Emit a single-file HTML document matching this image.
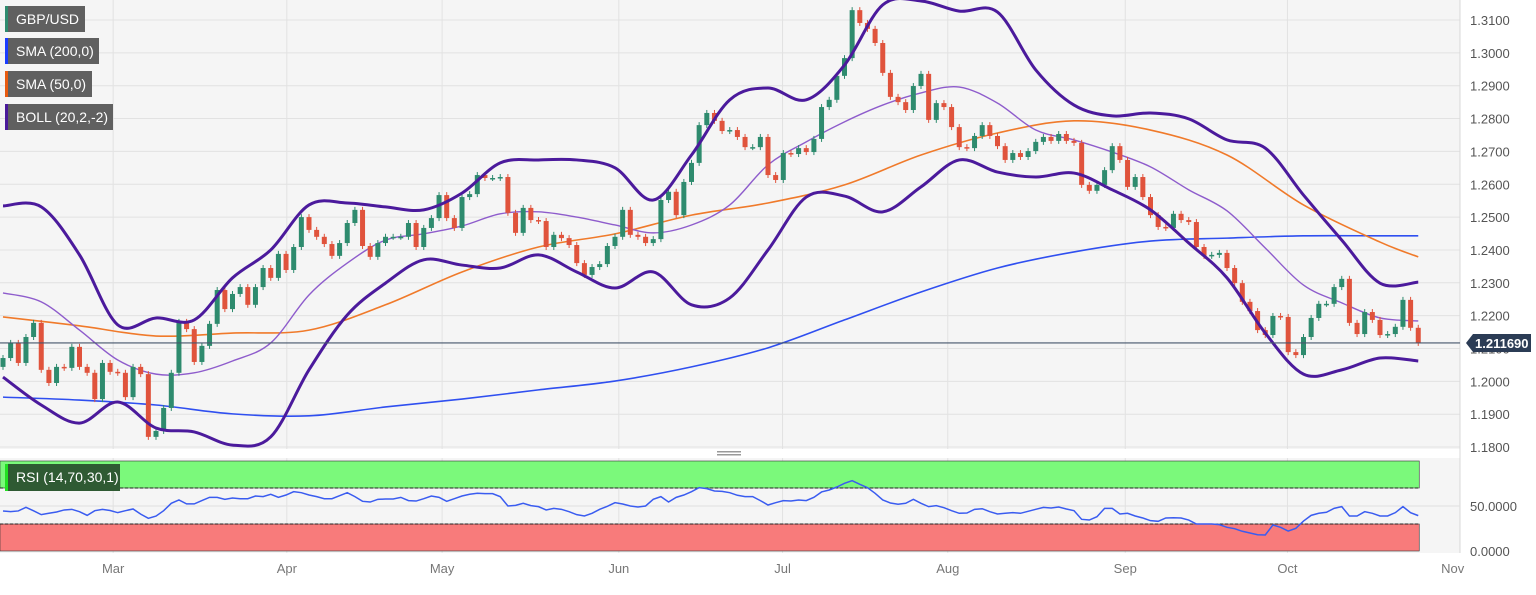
<!DOCTYPE html>
<html><head><meta charset="utf-8"><style>
html,body{margin:0;padding:0;background:#fff;}
body{width:1536px;height:595px;overflow:hidden;position:relative;font-family:"Liberation Sans",sans-serif;}
svg{position:absolute;left:0;top:0;}
.lg{position:absolute;left:5px;height:26px;background:#606060;color:#fff;font-size:14px;line-height:26px;padding:0 0 0 11px;box-sizing:border-box;white-space:nowrap;overflow:hidden;}
.lg i{position:absolute;left:0;top:0;bottom:0;width:3px;}
</style></head><body>
<svg id="c" width="1536" height="595"></svg>
<div class="lg" style="top:6px;width:80px"><i style="background:#2e8b6e"></i>GBP/USD</div>
<div class="lg" style="top:38px;width:94px"><i style="background:#1a3cff"></i>SMA (200,0)</div>
<div class="lg" style="top:71px;width:87px"><i style="background:#e85a0f"></i>SMA (50,0)</div>
<div class="lg" style="top:104px;width:108px"><i style="background:#4a1a9a"></i>BOLL (20,2,-2)</div>
<div class="lg" style="top:464px;left:5px;width:115px;height:27px;background:#2f5a33;line-height:27px"><i style="background:#22e022"></i>RSI (14,70,30,1)</div>
<script>
const closes=[1.2071,1.2117,1.2056,1.2135,1.2178,1.2035,1.1995,1.2044,1.2041,1.2105,1.2044,1.2026,1.1946,1.2056,1.2029,1.2026,1.1952,1.2044,1.2022,1.1831,
1.1849,1.1919,1.2026,1.2181,1.2159,1.2059,1.2108,1.2175,1.2278,1.2220,1.2266,1.2287,1.2233,1.2287,1.2345,1.2315,1.2388,1.2339,1.2409,1.2500,
1.2461,1.2440,1.2418,1.2382,1.2421,1.2482,1.2522,1.2412,1.2379,1.2421,1.2440,1.2440,1.2440,1.2482,1.2409,1.2467,1.2497,1.2567,1.2497,1.2467,
1.2561,1.2570,1.2628,1.2619,1.2619,1.2622,1.2513,1.2452,1.2528,1.2491,1.2488,1.2409,1.2446,1.2436,1.2415,1.2360,1.2324,1.2348,1.2357,1.2412,
1.2440,1.2522,1.2446,1.2440,1.2421,1.2433,1.2552,1.2577,1.2506,1.2607,1.2665,1.2780,1.2817,1.2793,1.2762,1.2765,1.2744,1.2713,1.2713,1.2744,
1.2628,1.2613,1.2695,1.2692,1.2710,1.2698,1.2738,1.2835,1.2857,1.2930,1.2984,1.3130,1.3091,1.3073,1.3030,1.2939,1.2866,1.2850,1.2826,1.2899,
1.2936,1.2796,1.2847,1.2835,1.2774,1.2713,1.2710,1.2747,1.2780,1.2747,1.2716,1.2674,1.2695,1.2683,1.2701,1.2729,1.2744,1.2732,1.2753,1.2732,
1.2726,1.2598,1.2580,1.2598,1.2643,1.2716,1.2674,1.2592,1.2622,1.2561,1.2506,1.2470,1.2467,1.2510,1.2491,1.2485,1.2409,1.2382,1.2385,1.2391,
1.2345,1.2299,1.2242,1.2214,1.2156,1.2141,1.2199,1.2196,1.2089,1.2080,1.2135,1.2193,1.2236,1.2236,1.2287,1.2312,1.2178,1.2144,1.2211,1.2187,
1.2141,1.2144,1.2166,1.2248,1.2163,1.2117];
const bandUpper=[1.2534,1.2531,1.2385,1.2172,1.2193,1.2187,1.2315,1.2400,1.2537,1.2543,1.2531,1.2522,1.2573,1.2665,1.2674,1.2674,1.2650,1.2552,1.2689,
1.2857,1.2893,1.2857,1.2963,1.3146,1.3158,1.3127,1.3124,1.2948,1.2841,1.2808,1.2817,1.2799,1.2735,1.2710,1.2567,1.2430,1.2299,1.2302];
const bandLower=[1.2013,1.1928,1.1873,1.1937,1.1858,1.1846,1.1806,1.1831,1.2035,1.2202,1.2299,1.2370,1.2354,1.2345,1.2385,1.2333,1.2284,1.2333,1.2233,
1.2254,1.2400,1.2561,1.2564,1.2516,1.2592,1.2674,1.2637,1.2622,1.2634,1.2583,1.2522,1.2421,1.2315,1.2147,1.2022,1.2035,1.2071,1.2062];
const bandMid=[1.2269,1.2242,1.2156,1.2065,1.2022,1.2026,1.2062,1.2117,1.2263,1.2360,1.2430,1.2449,1.2473,1.2510,1.2516,1.2500,1.2476,1.2452,1.2476,
1.2537,1.2659,1.2729,1.2790,1.2841,1.2878,1.2896,1.2847,1.2765,1.2735,1.2698,1.2653,1.2583,1.2519,1.2406,1.2293,1.2239,1.2193,1.2184];
const sma50=[1.2196,1.2169,1.2138,1.2147,1.2156,1.2233,1.2333,1.2409,1.2449,1.2506,1.2543,1.2598,1.2689,1.2756,1.2793,1.2765,1.2689,1.2537,1.2424,1.2379];
const sma200=[1.1952,1.1943,1.1928,1.1901,1.1895,1.1922,1.1946,1.1974,1.2001,1.2044,1.2102,1.2187,1.2272,1.2345,1.2394,1.2427,1.2436,1.2443,1.2443,1.2443];
const rsi=[44.5,43.7,44.5,48.5,44.7,40.4,41.9,43.3,45.6,46.3,43.7,39.6,44.8,46.3,45,42.6,44.8,46.7,41,36.3,
38.8,44.8,53,56.7,52.3,52.3,56,59.6,59.6,57.4,58.9,58.1,58.1,61.1,60.4,63,59.6,62.2,65.9,64.8,
62.2,60.4,58.1,58.1,61.5,64.8,60.4,55.2,54.4,57.4,57.8,57.8,59.6,56,55.5,58.1,61.1,59.6,55.2,58.1,
61.1,63,64.1,63.7,63.7,60.4,50,50.7,53,50.4,49.3,45.6,47.4,46.3,43.7,40.4,38.9,41.9,46.3,49.7,
53.7,52.2,50,48.9,50,57.4,60.4,54.4,59.6,62.2,65.9,70.4,69.3,66.7,66.3,64.8,61.9,60.4,60.4,56,
51.1,53.7,56,55.5,56.7,56,59.6,65.6,67.8,71.1,75.2,78.1,74.1,70.4,64.1,56.7,53.3,51.9,53,57.4,
53,49.3,50.4,48.1,44.8,41.9,42.2,46.3,47,43.7,41.1,41.9,42.6,41.9,44.1,46.3,48.5,47.8,48.9,46.7,
44.8,35.2,34.4,38.1,47.4,47.4,41.1,41.9,38.9,36.7,33.7,33,36.7,37,36.7,34.4,30,30,30,29.3,
26.3,24.8,21.9,20,18.1,17.8,28.9,26.3,22.2,25.2,33.3,39.6,41.9,43,47.4,49.3,38.9,38.9,43.7,41.9,
38.9,38.9,42.6,49.3,42.6,39.3];
const priceTicks=["1.3100","1.3000","1.2900","1.2800","1.2700","1.2600","1.2500","1.2400","1.2300","1.2200","1.2100","1.2000","1.1900","1.1800"];
const months=["Mar","Apr","May","Jun","Jul","Aug","Sep","Oct","Nov"];
const monthIdx=[14.4,37.1,57.4,80.5,101.9,123.5,146.7,167.9,189.5];
const lastPrice=1.21169;

const NS="http://www.w3.org/2000/svg";
const svg=document.getElementById('c');
function el(t,a,p){const e=document.createElementNS(NS,t);for(const k in a)e.setAttribute(k,a[k]);(p||svg).appendChild(e);return e;}
const X=i=>3+i*7.65;
const Y=p=>20+(1.31-p)*3285;
const RY=v=>551-0.9*v;
const PR=1460;
function smooth(pts){let d='M'+pts[0][0]+','+pts[0][1];for(let i=0;i<pts.length-1;i++){const p0=pts[i-1]||pts[i],p1=pts[i],p2=pts[i+1],p3=pts[i+2]||p2;
d+=' C'+(p1[0]+(p2[0]-p0[0])/6)+','+(p1[1]+(p2[1]-p0[1])/6)+' '+(p2[0]-(p3[0]-p1[0])/6)+','+(p2[1]-(p3[1]-p1[1])/6)+' '+p2[0]+','+p2[1];}return d;}

let r=el('rect',{x:0,y:0,width:PR,height:449,fill:'#f5f5f5'});

r=el('rect',{x:0,y:458,width:PR,height:95,fill:'#f5f5f5'});

priceTicks.forEach(t=>{const y=Y(parseFloat(t));
 const g=el('line',{x1:0,x2:PR,y1:y,y2:y,stroke:'#e2e2e2','stroke-width':1});
 
 const tx=el('text',{x:1470,y:y+5,fill:'#555','font-size':13});tx.textContent=t;
 
});
monthIdx.forEach((m,k)=>{const x=X(m);
 if(k<8){const g=el('line',{x1:x,x2:x,y1:0,y2:449,stroke:'#e2e2e2'});
 const g2=el('line',{x1:x,x2:x,y1:458,y2:553,stroke:'#e2e2e2'});}
 const t=el('text',{x:x,y:573,fill:'#777','font-size':13,'text-anchor':'middle'});t.textContent=months[k];
 
});
el('line',{x1:PR,x2:PR,y1:0,y2:553,stroke:'#d8d8d8'});
r=el('rect',{x:0,y:RY(100),width:X(185)+1,height:RY(70)-RY(100),fill:'#7bf97b',stroke:'#333','stroke-width':0.6});

r=el('rect',{x:0,y:RY(30),width:X(185)+1,height:RY(0)-RY(30),fill:'#f87b7b',stroke:'#333','stroke-width':0.6});

el('line',{x1:0,x2:X(185),y1:RY(70),y2:RY(70),stroke:'#222','stroke-dasharray':'3,2'});
el('line',{x1:0,x2:X(185),y1:RY(30),y2:RY(30),stroke:'#222','stroke-dasharray':'3,2'});
el('line',{x1:0,x2:PR,y1:RY(50),y2:RY(50),stroke:'#e0e0e0'});
[["50.0000",50],["0.0000",0]].forEach(a=>{const t=el('text',{x:1470,y:RY(a[1])+5,fill:'#555','font-size':13});t.textContent=a[0];
 });
let rp=el('polyline',{points:rsi.map((v,i)=>X(i)+','+RY(v)).join(' '),fill:'none',stroke:'#3a5cf0','stroke-width':1.5});

el('rect',{x:717,y:451,width:24,height:1.5,fill:'#999'});el('rect',{x:717,y:454,width:24,height:1.5,fill:'#999'});

function line(arr,step,col,w,name){const pts=arr.map((v,k)=>[X(Math.min(k*step,185)),Y(v)]);
 const p=el('path',{d:smooth(pts),fill:'none',stroke:col,'stroke-width':w,'stroke-linejoin':'round'});
 }
line(sma200,10,'#2f4ff0',1.6,'sma200-line');
line(sma50,10,'#f07a2a',1.6,'sma50-line');
line(bandMid,5,'#8e5ccc',1.4,'boll-middle-line');

closes.forEach((c,i)=>{const o=i?closes[i-1]:1.2044;const up=c>=o;const col=up?'#2e8b6e':'#e0533c';const x=X(i);
 const g=el('g',{});
 
 el('line',{x1:x,x2:x,y1:Y(Math.max(o,c))-3,y2:Y(Math.min(o,c))+3,stroke:col,'stroke-width':1},g);
 const t=Math.min(Y(o),Y(c));el('rect',{x:x-2.5,y:t,width:5,height:Math.max(1.5,Math.abs(Y(o)-Y(c))),fill:col},g);
});
line(bandUpper,5,'#4b1a9c',3,'boll-upper-band');
line(bandLower,5,'#4b1a9c',3,'boll-lower-band');

let lp=el('line',{x1:0,x2:PR,y1:Y(lastPrice),y2:Y(lastPrice),stroke:'#46566c','stroke-width':1.2});

const ly=Y(lastPrice);
let bx=el('path',{d:`M1466,${ly} L1473,${ly-9} L1531,${ly-9} L1531,${ly+9} L1473,${ly+9} Z`,fill:'#2b3c55'});

let bt=el('text',{x:1475,y:ly+5,fill:'#fff','font-size':13,'font-weight':'bold'});bt.textContent='1.211690';

</script>
</body></html>
